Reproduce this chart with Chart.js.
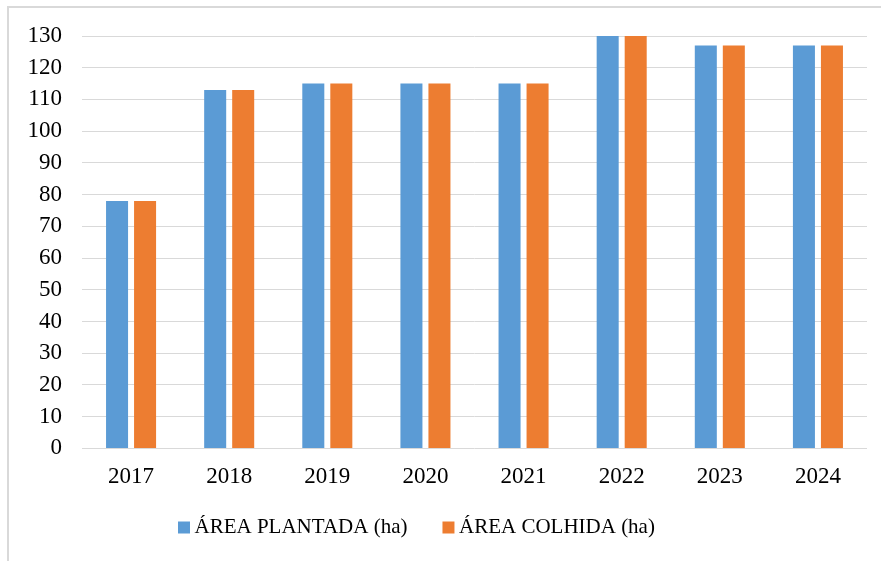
<!DOCTYPE html>
<html>
<head>
<meta charset="utf-8">
<script src="https://cdn.jsdelivr.net/npm/chart.js@4"></script>
<style>
  html, body { margin: 0; padding: 0; background: #fff; }
  #frame {
    position: absolute;
    left: 7px;
    top: 6px;
    width: 874px;
    height: 555px;
    border-left: 2px solid #d9d9d9;
    border-top: 2px solid #d9d9d9;
  }
  canvas { display: block; }
</style>
</head>
<body>
<div id="frame">
  <canvas id="myChart" width="872" height="553"></canvas>
</div>
<script>
const years = ["2017", "2018", "2019", "2020", "2021", "2022", "2023", "2024"];
const areaPlantada = [78, 113, 115, 115, 115, 130, 127, 127];
const areaColhida = [78, 113, 115, 115, 115, 130, 127, 127];
const seriesNames = ["ÁREA PLANTADA (ha)", "ÁREA COLHIDA (ha)"];

const serif = "'Liberation Serif', 'Times New Roman', serif";

// put the legend row where the original one sits
const legendShift = {
  id: "legendShift",
  afterLayout(chart) {
    const pad = chart.options.plugins.legend.labels.padding;
    chart.legend.left = 175 - pad;
    chart.legend.top = 468;
  }
};

const ctx = document.getElementById("myChart").getContext("2d");
new Chart(ctx, {
  type: "bar",
  data: {
    labels: years,
    datasets: [
      {
        label: seriesNames[0],
        data: areaPlantada,
        backgroundColor: "#5b9bd5"
      },
      {
        label: seriesNames[1],
        data: areaColhida,
        backgroundColor: "#ed7d31"
      }
    ]
  },
  options: {
    responsive: false,
    animation: false,
    devicePixelRatio: 1,
    categoryPercentage: 0.571,
    barPercentage: 0.786,
    layout: {
      padding: { left: 0, right: 14, top: 28, bottom: -17 }
    },
    scales: {
      x: {
        grid: { display: false, drawTicks: false },
        border: { display: false },
        ticks: {
          padding: 15,
          color: "#000",
          font: { family: serif, size: 23 }
        }
      },
      y: {
        min: 0,
        max: 130,
        grid: { color: "#d9d9d9", lineWidth: 1, drawTicks: false },
        border: { display: false },
        ticks: {
          stepSize: 10,
          autoSkip: false,
          padding: 20,
          color: "#000",
          font: { family: serif, size: 23 }
        },
        afterFit(scale) {
          scale.width = 73;
          scale.paddingTop = 0;
          scale.paddingBottom = 0;
        }
      }
    },
    plugins: {
      tooltip: { enabled: false },
      legend: {
        position: "bottom",
        align: "start",
        labels: {
          usePointStyle: true,
          pointStyle: "rect",
          boxWidth: 0.01,
          boxHeight: 12,
          padding: 41,
          color: "#000",
          font: { family: serif, size: 21 }
        }
      }
    }
  },
  plugins: [legendShift]
});
</script>
</body>
</html>
